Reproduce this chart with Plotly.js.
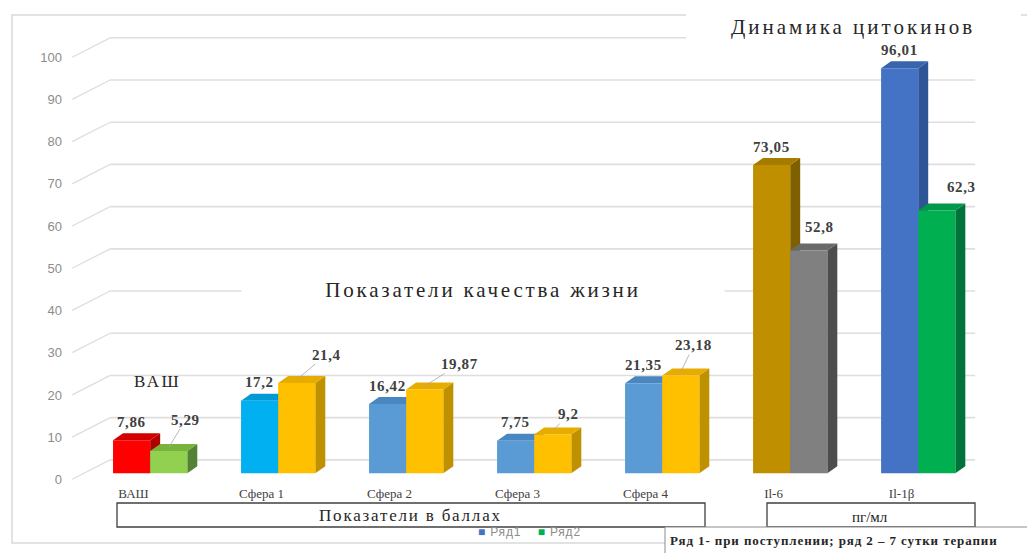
<!DOCTYPE html>
<html>
<head>
<meta charset="utf-8">
<script src="https://cdn.plot.ly/plotly-3.0.1.min.js"></script>
<style>html,body{margin:0;padding:0;background:#fff;}#chart{width:1027px;height:553px;}</style>
</head>
<body>
<div id="chart"></div>
<script>
// ---- data ----
const categories = ['ВАШ', 'Сфера 1', 'Сфера 2', 'Сфера 3', 'Сфера 4', 'Il-6', 'Il-1β'];
const series1 = [7.86, 17.2, 16.42, 7.75, 21.35, 73.05, 96.01];   // Ряд1 – при поступлении
const series2 = [5.29, 21.4, 19.87, 9.2, 23.18, 52.8, 62.3];      // Ряд2 – 7 сутки терапии
const yTicks = [0, 10, 20, 30, 40, 50, 60, 70, 80, 90, 100];

// ---- styles ----
const front1 = ['#FF0000', '#00B0F0', '#5B9BD5', '#5B9BD5', '#5B9BD5', '#BF8F00', '#4472C4'];
const side1  = ['#B00000', '#0085B8', '#3E6D99', '#3E6D99', '#3E6D99', '#7F6000', '#2F5597'];
const top1   = ['#D00000', '#009BD6', '#4A86C0', '#4A86C0', '#4A86C0', '#A67C00', '#3A63AE'];
const front2 = ['#92D050', '#FFC000', '#FFC000', '#FFC000', '#FFC000', '#808080', '#00B050'];
const side2  = ['#548235', '#BF9000', '#BF9000', '#BF9000', '#BF9000', '#4D4D4D', '#00733A'];
const top2   = ['#78B33C', '#E6AC00', '#E6AC00', '#E6AC00', '#E6AC00', '#6A6A6A', '#00984A'];
// label offsets (px) for the second series, and whether a leader line is drawn
const lab2Off = [[17, -28], [30, -25], [35, -22], [16, -17], [13, -27], [11, -20], [25, -20]];
const lab2Lead = [true, true, true, true, true, false, false];

// ---- geometry ----
const L = 58, T = 26, W = 937, H = 460;
const xRange = [-0.72, 6.6], yRange = [-3, 106];
const pxX = W / (xRange[1] - xRange[0]);
const pxY = H / (yRange[1] - yRange[0]);
const BW = 0.29;                 // bar width (x units)
const DX = 10 / pxX, DY = 7 / pxY; // 3D depth
const px2p = px => (px - L) / W;
const py2p = py => (T + H - py) / H;
const fmt = v => String(v).replace('.', ',');
const sp = (txt, ls) => '<span style="letter-spacing:' + ls + 'px">' + txt + '</span>';

const xs = categories.map((c, i) => i);

const traces = [
  { type: 'bar', x: xs, y: series1, width: BW, offset: -BW, marker: { color: front1, line: { width: 0 } },
    name: 'Ряд1', hoverinfo: 'skip', showlegend: false },
  { type: 'bar', x: xs, y: series2, width: BW, offset: 0, marker: { color: front2, line: { width: 0 } },
    name: 'Ряд2', hoverinfo: 'skip', showlegend: false }
];

const shapes = [];
// outer border
shapes.push({ type: 'rect', xref: 'paper', yref: 'paper', x0: px2p(12), x1: px2p(1040), y0: py2p(543), y1: py2p(15),
  line: { color: '#d9d9d9', width: 1.5 }, fillcolor: 'rgba(0,0,0,0)', layer: 'below' });
// gridlines (back wall with perspective)
const gxL = (110 - 150) / pxX, gxR = (975 - 150) / pxX, gxD = (72 - 150) / pxX;
const backOff = 3.2, labOff = -1.4;
yTicks.forEach(t => {
  shapes.push({ type: 'line', xref: 'x', yref: 'y', x0: gxL, x1: gxR, y0: t + backOff, y1: t + backOff,
    line: { color: '#dedede', width: 1.6 }, layer: 'below' });
  shapes.push({ type: 'line', xref: 'x', yref: 'y', x0: gxD, x1: gxL, y0: t + labOff, y1: t + backOff,
    line: { color: '#dedede', width: 1.3 }, layer: 'below' });
});
// 3D faces
function faces(i, v, x0, x1, sideC, topC) {
  shapes.push({ type: 'path', xref: 'x', yref: 'y', layer: 'below', line: { width: 0 }, fillcolor: sideC,
    path: `M${x1},0 L${x1 + DX},${DY} L${x1 + DX},${v + DY} L${x1},${v} Z` });
  shapes.push({ type: 'path', xref: 'x', yref: 'y', layer: 'below', line: { width: 0 }, fillcolor: topC,
    path: `M${x0},${v} L${x0 + DX},${v + DY} L${x1 + DX},${v + DY} L${x1},${v} Z` });
}
xs.forEach(i => {
  faces(i, series1[i], i - BW, i, side1[i], top1[i]);
  faces(i, series2[i], i, i + BW, side2[i], top2[i]);
});
// white cover behind cytokine title
shapes.push({ type: 'rect', xref: 'paper', yref: 'paper', x0: px2p(686), x1: px2p(1021), y0: py2p(46), y1: py2p(0),
  line: { width: 0 }, fillcolor: '#ffffff', layer: 'above' });
// bottom boxes
shapes.push({ type: 'rect', xref: 'paper', yref: 'paper', x0: px2p(117), x1: px2p(705), y0: py2p(527), y1: py2p(503),
  line: { color: '#404040', width: 1.3 }, fillcolor: 'rgba(0,0,0,0)' });
shapes.push({ type: 'rect', xref: 'paper', yref: 'paper', x0: px2p(767), x1: px2p(975), y0: py2p(527), y1: py2p(503),
  line: { color: '#404040', width: 1.3 }, fillcolor: 'rgba(0,0,0,0)' });
shapes.push({ type: 'rect', xref: 'paper', yref: 'paper', x0: px2p(665), x1: px2p(1040), y0: py2p(560), y1: py2p(527),
  line: { color: '#8c8c8c', width: 1 }, fillcolor: '#ffffff' });

const serif = 'Liberation Serif';
const annotations = [];
function paperText(px, py, text, font, extra) {
  annotations.push(Object.assign({ xref: 'paper', yref: 'paper', x: px2p(px), y: py2p(py), text: text,
    showarrow: false, xanchor: 'center', yanchor: 'middle', font: font }, extra || {}));
}
// value labels
xs.forEach(i => {
  annotations.push({ x: i - BW / 2, y: series1[i] + DY / 2, xref: 'x', yref: 'y', text: '<b>' + sp(fmt(series1[i]), 0.6) + '</b>',
    showarrow: false, yshift: 15, xanchor: 'center', yanchor: 'middle', font: { family: serif, size: 15, color: '#404040' } });
  const o = lab2Off[i];
  annotations.push({ x: i + BW / 2, y: series2[i] + DY / 2, xref: 'x', yref: 'y', text: '<b>' + sp(fmt(series2[i]), 0.6) + '</b>',
    showarrow: true, ax: o[0], ay: o[1], arrowhead: 0, arrowwidth: 0.8, standoff: 0,
    arrowcolor: lab2Lead[i] ? '#a6a6a6' : 'rgba(0,0,0,0)', font: { family: serif, size: 15, color: '#404040' } });
});
// titles & texts
paperText(853, 27, sp('Динамика цитокинов', 3), { family: serif, size: 21, color: '#262626' });
paperText(483, 290, sp('Показатели качества жизни', 2.8), { family: serif, size: 21, color: '#262626' }, { width: 480, bgcolor: '#ffffff' });
paperText(157, 381, sp('ВАШ', 2.5), { family: serif, size: 17, color: '#262626' });
paperText(410, 515, sp('Показатели в баллах', 1.8), { family: serif, size: 17, color: '#262626' });
paperText(870, 517, 'пг/мл', { family: serif, size: 15, color: '#262626' });
paperText(529, 532, sp('<span style="color:#4472C4">■</span> Ряд1    <span style="color:#00B050">■</span> Ряд2', 0.8),
  { family: 'Liberation Sans', size: 12, color: '#8c8c8c' });
paperText(668, 540, '<b>' + sp('Ряд 1- при поступлении; ряд 2 – 7 сутки терапии', 0.9) + '</b>',
  { family: serif, size: 13, color: '#262626' }, { xanchor: 'left' });

const layout = {
  width: 1027, height: 553,
  margin: { l: L, r: 1027 - L - W, t: T, b: 553 - T - H, pad: 0 },
  paper_bgcolor: '#ffffff', plot_bgcolor: 'rgba(0,0,0,0)',
  barmode: 'overlay', showlegend: false,
  xaxis: { range: xRange, tickvals: xs.map(i => i - 0.13), ticktext: categories, showgrid: false, zeroline: false,
    showline: false, ticks: '', ticklabelstandoff: -2, tickfont: { family: serif, size: 13, color: '#404040' }, fixedrange: true },
  yaxis: { range: yRange, tickvals: yTicks, showgrid: false, zeroline: false, showline: false, ticks: '',
    ticklabelshift: 6, ticklabelstandoff: -5,
    tickfont: { family: 'Liberation Sans', size: 13, color: '#8c8c8c' }, fixedrange: true },
  shapes: shapes, annotations: annotations
};

Plotly.newPlot('chart', traces, layout, { displayModeBar: false, staticPlot: true });
</script>
</body>
</html>
